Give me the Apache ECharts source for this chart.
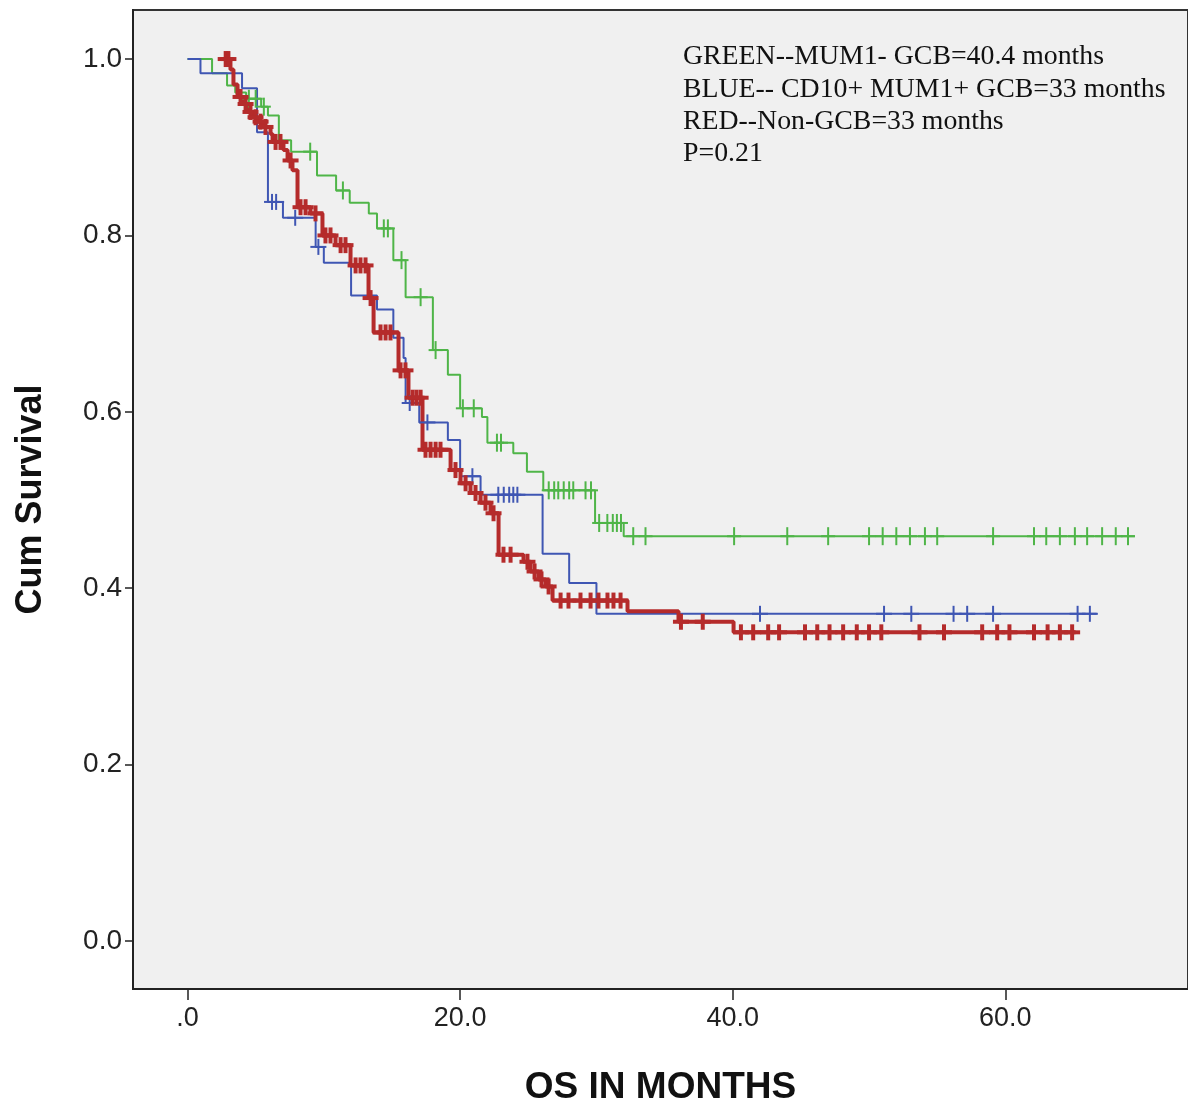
<!DOCTYPE html>
<html>
<head>
<meta charset="utf-8">
<script src="https://cdn.jsdelivr.net/npm/echarts@6/dist/echarts.min.js"></script>
<style>
  html, body { margin: 0; padding: 0; background: #ffffff; }
  #main { width: 1188px; height: 1102px; }
</style>
</head>
<body>
<div id="main"></div>
<script>
// step points [month, survival] for each group
const greenSteps = [[0,1.0],[1.8,0.984],[2.9,0.970],[3.5,0.962],[4.3,0.955],[5.4,0.946],[5.9,0.936],[6.7,0.908],[7.6,0.895],[9.5,0.868],[10.9,0.851],[11.9,0.837],[13.3,0.825],[13.9,0.808],[15.1,0.772],[16.0,0.730],[18.0,0.670],[19.1,0.642],[20.0,0.604],[21.6,0.594],[22.0,0.565],[23.9,0.553],[24.9,0.532],[26.1,0.511],[29.9,0.474],[32.0,0.459],[69.5,0.459]];
const blueSteps = [[0,1.0],[0.95,0.984],[4.0,0.967],[5.1,0.917],[5.9,0.838],[7.0,0.820],[9.4,0.787],[10.0,0.769],[12.0,0.732],[13.9,0.716],[15.1,0.684],[15.85,0.661],[16.0,0.610],[17.0,0.588],[19.1,0.568],[20.0,0.527],[21.5,0.506],[26.05,0.439],[28.0,0.406],[30.0,0.371],[66.7,0.371]];
const redSteps = [[2.6,1.0],[3.15,0.988],[3.37,0.971],[3.67,0.957],[4.04,0.949],[4.4,0.940],[4.77,0.934],[5.14,0.929],[5.58,0.923],[6.09,0.915],[6.24,0.906],[7.04,0.897],[7.34,0.885],[7.7,0.874],[8.07,0.832],[9.02,0.825],[9.9,0.800],[10.86,0.789],[11.96,0.766],[13.28,0.729],[13.65,0.690],[15.48,0.647],[16.21,0.616],[17.24,0.557],[19.3,0.534],[20.03,0.519],[20.76,0.508],[21.5,0.497],[22.23,0.485],[22.82,0.438],[24.65,0.430],[25.16,0.419],[25.75,0.410],[26.27,0.402],[26.78,0.386],[32.28,0.374],[36.02,0.362],[40.06,0.350],[65.15,0.350]];

// censored times
const greenCensor = [4.5,5.0,5.6,9.0,11.4,14.4,14.7,15.7,17.1,18.2,20.2,21.0,22.7,23.0,26.5,26.9,27.2,27.6,28.0,28.3,29.2,29.6,30.2,30.8,31.2,31.5,31.8,32.7,33.6,40.1,44.0,47.0,50.0,51.0,52.0,53.0,54.1,55.0,59.1,62.1,63.0,64.0,65.1,66.0,67.1,68.1,69.0];
const blueCensor = [6.2,6.5,7.9,9.6,16.3,17.6,20.9,22.8,23.2,23.6,23.9,24.2,42.0,51.1,53.1,56.2,57.2,59.1,65.3,66.2];
const redCensor = [2.8,3.0,3.89,4.26,4.62,4.99,5.36,5.72,6.46,6.82,7.56,8.29,8.66,9.39,10.12,10.49,11.23,11.59,12.33,12.69,13.06,13.43,14.16,14.53,14.89,15.63,15.99,16.51,16.8,17.1,17.46,17.83,18.2,18.56,19.66,20.4,21.13,21.86,22.45,23.18,23.7,24.94,25.46,25.97,26.49,27.37,27.95,28.83,29.57,30.15,30.81,31.25,31.77,36.2,37.8,40.6,41.5,42.6,43.4,45.3,46.2,47.1,48.1,49.1,50.0,50.9,53.7,55.5,58.3,59.4,60.3,62.1,63.1,64.0,64.9];

const xTicks = [0, 20, 40, 60];
const yTicks = [0, 0.2, 0.4, 0.6, 0.8, 1.0];
const noteLines = ['GREEN--MUM1- GCB=40.4 months', 'BLUE-- CD10+ MUM1+ GCB=33 months', 'RED--Non-GCB=33 months', 'P=0.21'];

const GREEN = '#4fb548', BLUE = '#3f56b3', RED = '#b52b2b';

function survAt(steps, t) {
    let s = steps[0][1];
    for (const p of steps) { if (p[0] <= t) s = p[1]; }
    return s;
}

function censorSeries(times, steps, color, w, hw, vh) {
    return {
        type: 'custom',
        z: 5,
        data: times.map(t => [t, survAt(steps, t)]),
        renderItem: function (params, api) {
            const p = api.coord([api.value(0), api.value(1)]);
            return {
                type: 'group',
                children: [
                    {type: 'line', shape: {x1: p[0], y1: p[1] - vh, x2: p[0], y2: p[1] + vh}, style: {stroke: color, lineWidth: w}},
                    {type: 'line', shape: {x1: p[0] - hw, y1: p[1], x2: p[0] + hw, y2: p[1]}, style: {stroke: color, lineWidth: w}}
                ]
            };
        }
    };
}

function stepSeries(steps, color, w) {
    return {type: 'line', step: 'end', data: steps, symbol: 'none', z: 3,
        lineStyle: {color: color, width: w}};
}

const chart = echarts.init(document.getElementById('main'));
const labelFont = "'Liberation Sans', Arial, sans-serif";
chart.setOption({
    animation: false,
    grid: {left: 133, top: 10, right: 0, bottom: 113, outerBoundsMode: 'none', containLabel: false,
        show: true, backgroundColor: '#f0f0f0', borderColor: '#333', borderWidth: 2},
    xAxis: {
        type: 'value', min: -4, max: 73.4,
        name: 'OS IN MONTHS', nameLocation: 'middle', nameGap: 80,
        nameTextStyle: {fontFamily: 'Liberation Sans', fontWeight: 'bold', fontSize: 37, color: '#111'},
        axisLine: {onZero: false, lineStyle: {color: '#222', width: 2}},
        axisTick: {show: true, length: 11, customValues: xTicks, lineStyle: {color: '#222', width: 1.5}},
        axisLabel: {customValues: xTicks, margin: 16, fontFamily: labelFont, fontSize: 27, color: '#222',
            formatter: v => v === 0 ? '.0' : v.toFixed(1)},
        splitLine: {show: false}
    },
    yAxis: {
        type: 'value', min: -0.0544, max: 1.0556,
        name: 'Cum Survival', nameLocation: 'middle', nameGap: 84,
        nameTextStyle: {fontFamily: 'Liberation Sans', fontWeight: 'bold', fontSize: 36, color: '#111'},
        axisLine: {show: true, onZero: false, lineStyle: {color: '#222', width: 2}},
        axisTick: {show: true, length: 8, customValues: yTicks, lineStyle: {color: '#222', width: 1.5}},
        axisLabel: {customValues: yTicks, margin: 11, fontFamily: labelFont, fontSize: 28, color: '#222',
            formatter: v => v.toFixed(1)},
        splitLine: {show: false}
    },
    graphic: [{
        type: 'text', left: 683, top: 41, z: 10,
        style: {text: noteLines.join('\n'), fontFamily: "'Liberation Serif', serif", fontSize: 27.8, lineHeight: 32.3, fill: '#111'}
    }],
    series: [
        stepSeries(greenSteps, GREEN, 2),
        stepSeries(blueSteps, BLUE, 2),
        stepSeries(redSteps, RED, 4),
        censorSeries(greenCensor, greenSteps, GREEN, 2, 7, 9),
        censorSeries(blueCensor, blueSteps, BLUE, 2, 8, 8),
        censorSeries(redCensor, redSteps, RED, 4, 8, 8)
    ]
});
</script>
</body>
</html>
